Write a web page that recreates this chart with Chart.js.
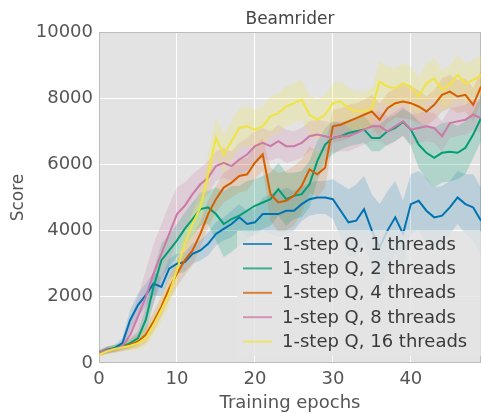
<!DOCTYPE html>
<html>
<head>
<meta charset="utf-8">
<script src="https://cdn.jsdelivr.net/npm/chart.js@4.4.1/dist/chart.umd.min.js"></script>
<style>
  html, body { margin: 0; padding: 0; background: #fff; }
  #wrap { width: 481px; height: 414px; }
</style>
</head>
<body>
<div id="wrap"><canvas id="beamriderChart" width="481" height="414"></canvas></div>
<script>
// Epochs on the x axis
var epochs = [0, 1, 2, 3, 4, 5, 6, 7, 8, 9, 10, 11, 12, 13, 14, 15, 16, 17, 18, 19,
  20, 21, 22, 23, 24, 25, 26, 27, 28, 29, 30, 31, 32, 33, 34, 35, 36, 37, 38, 39,
  40, 41, 42, 43, 44, 45, 46, 47, 48, 49];

// Mean score per epoch for each thread count
var q1 = [300, 400, 450, 600, 1300, 1750, 2050, 2400, 2300, 2850, 3000, 3050, 3300, 3400, 3600, 3900, 4050, 4200, 4400, 4200,
  4250, 4500, 4500, 4500, 4600, 4600, 4800, 4950, 5000, 5000, 4950, 4600, 4250, 4300, 4650, 4000, 3500, 4000, 4400, 3900,
  4800, 4900, 4600, 4400, 4450, 4700, 5000, 4800, 4700, 4300];
var q2 = [300, 380, 450, 500, 600, 750, 1300, 2300, 3100, 3400, 3700, 4050, 4350, 4650, 4700, 4500, 4200, 4350, 4450, 4600,
  4750, 4850, 4950, 5250, 4950, 5050, 5100, 5400, 6100, 6600, 6800, 6850, 6950, 7000, 7050, 6800, 6800, 7000, 7100, 7280,
  7050, 6600, 6350, 6200, 6350, 6380, 6350, 6500, 6900, 7400];
var q4 = [300, 380, 420, 480, 550, 650, 850, 1250, 1700, 2250, 2700, 3100, 3400, 3900, 4500, 4950, 5300, 5450, 5650, 5700,
  6050, 6300, 5100, 4850, 4900, 5050, 5350, 5850, 5700, 5900, 7150, 7200, 7300, 7400, 7500, 7600, 7350, 7700, 7850, 7900,
  7850, 7750, 7600, 7800, 8100, 8200, 8050, 8100, 7800, 8350];
var q8 = [300, 380, 420, 500, 850, 1400, 2000, 2700, 3300, 3900, 4500, 4750, 5100, 5400, 5600, 5950, 6050, 5950, 6150, 6300,
  6550, 6650, 6550, 6700, 6550, 6550, 6650, 6850, 6900, 6850, 6800, 6850, 6850, 6950, 7050, 7150, 7150, 7000, 7150, 7300,
  7050, 7100, 7150, 7100, 6850, 7250, 7300, 7350, 7500, 7400];
var q16 = [250, 350, 420, 470, 520, 600, 750, 1150, 1600, 2100, 2800, 3600, 4200, 4700, 5700, 6800, 6300, 6700, 7100, 7150,
  7050, 7150, 7450, 7550, 7750, 7850, 7950, 7500, 7350, 7500, 7850, 7900, 7700, 7600, 7600, 7700, 8500, 8350, 8300, 8450,
  8350, 8050, 8450, 8600, 8250, 8400, 8700, 8450, 8550, 8700];

// Half-width of the shaded band around each mean
var q1Spread = [80, 100, 100, 150, 300, 350, 350, 350, 300, 300, 300, 300, 300, 300, 350, 350, 350, 400, 400, 400,
  400, 500, 600, 700, 700, 600, 500, 500, 500, 500, 600, 800, 1000, 1100, 1000, 1100, 1300, 1200, 1100, 1000,
  900, 900, 1000, 900, 900, 800, 800, 900, 1000, 1000];
var q2Spread = [80, 100, 100, 100, 150, 200, 400, 500, 500, 500, 500, 500, 500, 500, 500, 800, 1000, 1000, 900, 900,
  800, 800, 800, 800, 800, 700, 700, 700, 600, 500, 500, 400, 400, 400, 400, 400, 400, 400, 400, 400,
  500, 700, 800, 900, 900, 900, 800, 800, 700, 700];
var q4Spread = [80, 100, 100, 100, 150, 200, 250, 300, 300, 350, 400, 450, 450, 400, 400, 400, 450, 450, 500, 500,
  500, 500, 800, 900, 900, 900, 800, 700, 700, 600, 500, 500, 500, 450, 450, 500, 500, 450, 450, 500,
  500, 500, 450, 450, 500, 500, 500, 500, 500, 500];
var q8Spread = [80, 100, 100, 150, 400, 600, 800, 900, 900, 900, 800, 700, 600, 500, 500, 450, 450, 450, 500, 500,
  450, 450, 450, 500, 500, 450, 450, 450, 450, 450, 450, 450, 450, 450, 450, 450, 450, 450, 450, 450,
  450, 450, 450, 450, 450, 450, 450, 450, 450, 450];
var q16Spread = [80, 100, 100, 100, 150, 200, 250, 300, 350, 400, 400, 400, 400, 500, 600, 600, 600, 600, 600, 600,
  600, 600, 600, 600, 600, 600, 600, 600, 600, 600, 600, 600, 600, 600, 600, 600, 600, 600, 600, 600,
  600, 600, 600, 600, 600, 600, 600, 600, 600, 600];

var seriesLabels = ['1-step Q, 1 threads', '1-step Q, 2 threads', '1-step Q, 4 threads',
  '1-step Q, 8 threads', '1-step Q, 16 threads'];
var seriesColors = ['#0072B2', '#009E73', '#D55E00', '#CC79A7', '#F0E442'];
var bandColors = ['rgba(0,114,178,0.18)', 'rgba(0,158,115,0.22)', 'rgba(213,94,0,0.16)',
  'rgba(204,121,167,0.2)', 'rgba(240,228,66,0.22)'];

var xTicks = [0, 10, 20, 30, 40];
var yTicks = [0, 2000, 4000, 6000, 8000, 10000];

var means = [q1, q2, q4, q8, q16];
var spreads = [q1Spread, q2Spread, q4Spread, q8Spread, q16Spread];

function toPoints(values) {
  return values.map(function(v, i) { return { x: epochs[i], y: v }; });
}

// Each series: lower edge, upper edge filled down to it, then the mean line
var datasets = [];
means.forEach(function(m, s) {
  var lo = m.map(function(v, i) { return v - spreads[s][i]; });
  var hi = m.map(function(v, i) { return v + spreads[s][i]; });
  datasets.push({
    data: toPoints(lo), borderWidth: 0, pointRadius: 0, fill: false,
    order: 100 - 2 * s
  });
  datasets.push({
    data: toPoints(hi), borderWidth: 0, pointRadius: 0,
    fill: { target: 3 * s }, backgroundColor: bandColors[s],
    order: 99 - 2 * s
  });
  datasets.push({
    label: seriesLabels[s], data: toPoints(m),
    borderColor: seriesColors[s], borderWidth: 2, pointRadius: 0,
    fill: false, order: 10 - s
  });
});

var FONT = 'DejaVu Sans';

// grey panel, frame and title
var panelPlugin = {
  id: 'panel',
  beforeDraw: function(chart) {
    var a = chart.chartArea, ctx = chart.ctx;
    ctx.save();
    ctx.fillStyle = '#e3e3e3';
    ctx.fillRect(a.left, a.top, a.right - a.left, a.bottom - a.top);
    ctx.restore();
  },
  beforeDatasetsDraw: function(chart) {
    var a = chart.chartArea, ctx = chart.ctx;
    ctx.save();
    ctx.strokeStyle = '#bcbcbc';
    ctx.lineWidth = 1;
    ctx.strokeRect(a.left + 0.5, a.top + 0.5, a.right - a.left - 1, a.bottom - a.top - 1);
    ctx.fillStyle = '#444';
    ctx.font = '17px ' + FONT;
    ctx.textAlign = 'center';
    ctx.textBaseline = 'middle';
    ctx.fillText('Beamrider', (a.left + a.right) / 2, 20);
    ctx.restore();
  }
};

// legend box in the lower right of the plot
var legendPlugin = {
  id: 'innerLegend',
  afterDatasetsDraw: function(chart) {
    var ctx = chart.ctx;
    var a = chart.chartArea;
    var x0 = 237, y0 = 231, rowH = 24.4;
    ctx.save();
    ctx.fillStyle = 'rgba(227,227,227,0.8)';
    ctx.fillRect(x0, y0, a.right - x0, 125);
    ctx.font = '18px ' + FONT;
    ctx.textBaseline = 'middle';
    ctx.textAlign = 'left';
    seriesLabels.forEach(function(lbl, i) {
      var y = 244 + i * rowH;
      ctx.globalAlpha = 0.75;
      ctx.strokeStyle = seriesColors[i];
      ctx.lineWidth = 2;
      ctx.beginPath();
      ctx.moveTo(243, y);
      ctx.lineTo(272, y);
      ctx.stroke();
      ctx.globalAlpha = 1;
      ctx.fillStyle = '#3a3a3a';
      ctx.fillText(lbl, 282, y + 1);
    });
    ctx.restore();
  }
};

function plainNumber(v) { return String(v); }

new Chart(document.getElementById('beamriderChart'), {
  type: 'line',
  data: { datasets: datasets },
  options: {
    responsive: false,
    animation: false,
    layout: { padding: { top: 32, left: 0, right: 0, bottom: 0 } },
    plugins: {
      legend: { display: false },
      tooltip: { enabled: false },
      title: { display: false }
    },
    scales: {
      x: {
        type: 'linear', min: 0, max: 49,
        afterFit: function(scale) { scale.height = 51; },
        afterBuildTicks: function(scale) {
          scale.ticks = xTicks.map(function(v) { return { value: v }; });
        },
        grid: { color: '#ffffff', lineWidth: 1, drawTicks: false },
        border: { display: false },
        ticks: { font: { family: FONT, size: 18 }, color: '#555', padding: 6, callback: plainNumber },
        title: {
          display: true, text: 'Training epochs', color: '#555',
          font: { family: FONT, size: 18 }, padding: { top: 0, bottom: 0 }
        }
      },
      y: {
        min: 0, max: 10000,
        afterFit: function(scale) { scale.width = 99; },
        afterBuildTicks: function(scale) {
          scale.ticks = yTicks.map(function(v) { return { value: v }; });
        },
        grid: { color: '#ffffff', lineWidth: 1, drawTicks: false },
        border: { display: false },
        ticks: { font: { family: FONT, size: 18 }, color: '#555', padding: 6, callback: plainNumber },
        title: {
          display: true, text: 'Score', color: '#555',
          font: { family: FONT, size: 17 }, padding: { top: 8, bottom: 0 }
        }
      }
    }
  },
  plugins: [panelPlugin, legendPlugin]
});
</script>
</body>
</html>
